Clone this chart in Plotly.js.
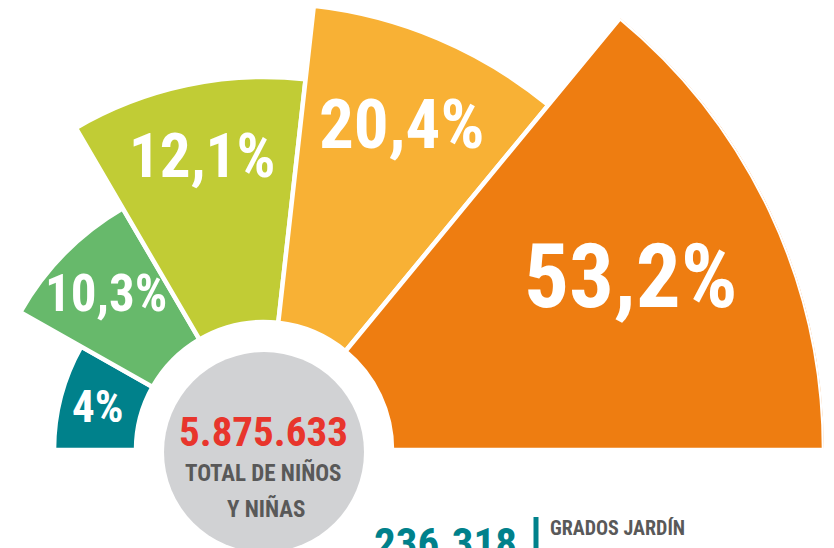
<!DOCTYPE html>
<html>
<head>
<meta charset="utf-8">
<script src="https://cdn.plot.ly/plotly-3.0.1.min.js"></script>
<style>
  html, body { margin:0; padding:0; width:834px; height:548px; overflow:hidden; background:#ffffff; }
  #chart { position:absolute; }
</style>
</head>
<body>
<div id="chart"></div>
<script>
// ---- data ----
const shares      = [4, 10.3, 12.1, 20.4, 53.2];          // % of children
const sectorOuter = [210, 280, 373, 447, 560];             // outer radius of each sector (chart units)
const sectorSpan  = [29.5, 30.2, 36.7, 33.1, 50.5];        // angular span (degrees), left to right
const sectorColors = ['#00818B', '#67B96B', '#C1CC35', '#F8B135', '#EE7D11'];
const totalChildren = '5.875.633';
const totalLabel1 = 'TOTAL DE NIÑOS';
const totalLabel2 = 'Y NIÑAS';
const gradesValue = '236.318';
const gradesLabel = 'GRADOS JARDÍN';

// ---- geometry (layout) ----
const INNER = 128;           // inner radius
const RMAX = 560;            // radial axis max (pixel radius of the polar)
const CX = 263.5, CY = 450;  // page position of polar centre
const divLeft = CX - RMAX, divTop = CY - RMAX;
const plotW = 2 * RMAX, plotH = RMAX, bottomM = 110;
const labelRFrac = [0.82, 0.795, 0.805, 0.79, 0.725];     // label radius as fraction of outer radius
const labelSizes = [45, 51, 61, 69, 89];

const el = document.getElementById('chart');
el.style.left = divLeft + 'px';
el.style.top = divTop + 'px';

// angles: start at 180 and go clockwise
const thetaMid = [];
let start = 180;
for (let i = 0; i < sectorSpan.length; i++) {
  thetaMid.push(start - sectorSpan[i] / 2);
  start -= sectorSpan[i];
}
const barR = sectorOuter.map(o => o - INNER);
const labels = shares.map(v => String(v).replace('.', ',') + '%');

const px = x => (x - divLeft) / plotW;
const py = y => 1 - (y - divTop) / plotH;

const FONT = '"Roboto Condensed", "Open Sans", sans-serif';

const traces = [
  {
    type: 'barpolar',
    r: barR,
    base: sectorOuter.map(() => INNER),
    theta: thetaMid,
    width: sectorSpan,
    marker: { color: sectorColors, line: { color: '#ffffff', width: 4.5 } },
    hoverinfo: 'skip',
    showlegend: false
  }
];

// sector labels, placed at the middle angle of each sector
const labelAnns = labels.map((t, i) => {
  const rr = sectorOuter[i] * labelRFrac[i];
  const a = thetaMid[i] * Math.PI / 180;
  const x = CX + rr * Math.cos(a);
  const y = CY - rr * Math.sin(a);
  return { text: t, xref: 'paper', yref: 'paper', x: px(x), y: py(y),
    xanchor: 'center', yanchor: 'middle', showarrow: false,
    font: { family: FONT, size: labelSizes[i], color: '#ffffff', weight: 'bold' } };
});

const layout = {
  width: plotW,
  height: plotH + bottomM,
  margin: { l: 0, r: 0, t: 0, b: bottomM, pad: 0 },
  paper_bgcolor: '#ffffff',
  showlegend: false,
  polar: {
    domain: { x: [0, 1], y: [0, 1] },
    sector: [0, 180],
    bgcolor: 'rgba(0,0,0,0)',
    radialaxis: { range: [0, RMAX], visible: false, showgrid: false },
    angularaxis: { visible: false, showgrid: false, direction: 'counterclockwise', rotation: 0 },
    bargap: 0
  },
  shapes: [
    { type: 'circle', xref: 'paper', yref: 'paper',
      x0: px(CX - 100), x1: px(CX + 100), y0: py(452 + 100), y1: py(452 - 100),
      fillcolor: '#D1D2D4', line: { width: 0 }, layer: 'above' },
    { type: 'rect', xref: 'paper', yref: 'paper',
      x0: px(533), x1: px(538), y0: py(565), y1: py(517),
      fillcolor: '#00818B', line: { width: 0 }, layer: 'above' }
  ],
  annotations: labelAnns.concat([
    { text: totalChildren, xref: 'paper', yref: 'paper', x: px(263), y: py(432),
      xanchor: 'center', yanchor: 'middle', showarrow: false,
      font: { family: FONT, size: 41, color: '#E8352C', weight: 'bold' } },
    { text: totalLabel1, xref: 'paper', yref: 'paper', x: px(263), y: py(473),
      xanchor: 'center', yanchor: 'middle', showarrow: false,
      font: { family: FONT, size: 23, color: '#595959', weight: 'bold' } },
    { text: totalLabel2, xref: 'paper', yref: 'paper', x: px(266), y: py(509),
      xanchor: 'center', yanchor: 'middle', showarrow: false,
      font: { family: FONT, size: 23, color: '#595959', weight: 'bold' } },
    { text: gradesValue, xref: 'paper', yref: 'paper', x: px(445), y: py(543),
      xanchor: 'center', yanchor: 'middle', showarrow: false,
      font: { family: FONT, size: 43, color: '#00818B', weight: 'bold' } },
    { text: gradesLabel, xref: 'paper', yref: 'paper', x: px(547), y: py(528),
      xanchor: 'left', yanchor: 'middle', showarrow: false,
      font: { family: FONT, size: 20, color: '#595959', weight: 'bold' } }
  ])
};

Plotly.newPlot(el, traces, layout, { displayModeBar: false, staticPlot: true });
</script>
</body>
</html>
